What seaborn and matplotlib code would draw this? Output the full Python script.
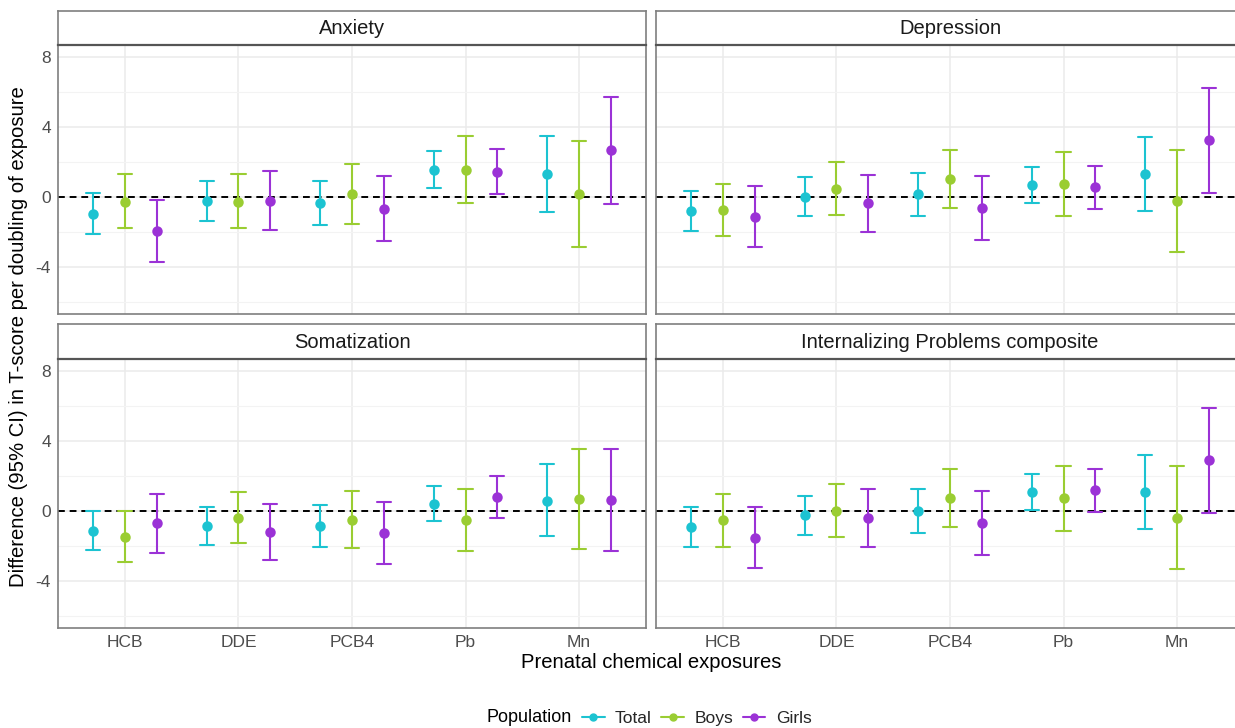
import numpy as np
import pandas as pd
import matplotlib
matplotlib.use("Agg")
import matplotlib.pyplot as plt
from matplotlib.lines import Line2D
import seaborn as sns

# ---------------- data ----------------
exposures = ["HCB", "DDE", "PCB4", "Pb", "Mn"]
populations = ["Total", "Boys", "Girls"]
outcomes = ["Anxiety", "Depression", "Somatization", "Internalizing Problems composite"]

# order: for each exposure -> Total, Boys, Girls
anx_est = [-0.95, -0.27, -1.92, -0.23, -0.27, -0.21, -0.34, 0.19, -0.69, 1.54, 1.56, 1.45, 1.31, 0.19, 2.67]
anx_lo = [-2.10, -1.80, -3.70, -1.35, -1.80, -1.90, -1.62, -1.52, -2.53, 0.50, -0.32, 0.19, -0.88, -2.86, -0.40]
anx_hi = [0.23, 1.30, -0.15, 0.91, 1.30, 1.49, 0.91, 1.90, 1.22, 2.61, 3.47, 2.72, 3.47, 3.22, 5.75]

dep_est = [-0.80, -0.74, -1.12, 0.00, 0.48, -0.36, 0.17, 1.03, -0.61, 0.67, 0.74, 0.55, 1.31, -0.25, 3.24]
dep_lo = [-1.94, -2.25, -2.86, -1.10, -1.03, -2.00, -1.09, -0.63, -2.44, -0.36, -1.10, -0.67, -0.82, -3.16, 0.25]
dep_hi = [0.34, 0.76, 0.63, 1.12, 1.98, 1.28, 1.39, 2.70, 1.22, 1.70, 2.59, 1.77, 3.45, 2.70, 6.23]

som_est = [-1.12, -1.49, -0.70, -0.86, -0.38, -1.22, -0.86, -0.50, -1.24, 0.42, -0.53, 0.80, 0.59, 0.70, 0.61]
som_lo = [-2.23, -2.93, -2.38, -1.92, -1.83, -2.82, -2.06, -2.13, -3.01, -0.59, -2.32, -0.38, -1.45, -2.17, -2.29]
som_hi = [0.00, 0.00, 0.97, 0.23, 1.09, 0.40, 0.34, 1.12, 0.53, 1.41, 1.28, 2.00, 2.67, 3.56, 3.54]

int_est = [-0.91, -0.53, -1.52, -0.23, 0.00, -0.38, 0.00, 0.74, -0.67, 1.10, 0.72, 1.18, 1.10, -0.38, 2.90]
int_lo = [-2.06, -2.06, -3.28, -1.35, -1.50, -2.04, -1.26, -0.93, -2.50, 0.06, -1.14, -0.08, -1.05, -3.33, -0.13]
int_hi = [0.25, 0.97, 0.23, 0.88, 1.52, 1.28, 1.24, 2.42, 1.16, 2.13, 2.57, 2.42, 3.22, 2.57, 5.90]

y_ticks = [-4, 0, 4, 8]
x_label = "Prenatal chemical exposures"
y_label = "Difference (95% CI) in T-score per doubling of exposure"
legend_title = "Population"

series = {
    "Anxiety": (anx_est, anx_lo, anx_hi),
    "Depression": (dep_est, dep_lo, dep_hi),
    "Somatization": (som_est, som_lo, som_hi),
    "Internalizing Problems composite": (int_est, int_lo, int_hi),
}

rows = []
for outc in outcomes:
    est, lo, hi = series[outc]
    k = 0
    for e in exposures:
        for p in populations:
            for v in (lo[k], est[k], hi[k]):
                rows.append({"outcome": outc, "exposure": e, "Population": p, "value": v})
            k += 1
df = pd.DataFrame(rows)

palette = {"Total": "#1CC3D1", "Boys": "#9ACD32", "Girls": "#9B32D6"}

sns.set_style("white")
plt.rcParams["font.family"] = ["Liberation Sans", "DejaVu Sans"]
plt.rcParams["axes.unicode_minus"] = False

W, H = 1235, 728
fig = plt.figure(figsize=(W / 100, H / 100), dpi=100)

def fx(px):
    return px / W

def fy(py):
    return 1 - py / H

panel_w = 588
lefts = [58, 656]
tops = [(11, 45, 314), (324, 359, 628)]
border_col = "#7F7F7F"

for i, outc in enumerate(outcomes):
    r, c = divmod(i, 2)
    s_top, a_top, a_bot = tops[r]
    l = lefts[c]
    ax = fig.add_axes([fx(l), fy(a_bot), panel_w / W, (a_bot - a_top) / H])
    sub = df[df["outcome"] == outc]
    sns.pointplot(data=sub, x="exposure", y="value", hue="Population",
                  order=exposures, hue_order=populations, palette=palette,
                  estimator="median", errorbar=("pi", 100), dodge=0.56,
                  linestyle="none", marker="o", markersize=5.5,
                  capsize=0.125, err_kws={"linewidth": 1.5},
                  legend=False, ax=ax, zorder=3)
    ax.axhline(0, color="black", linestyle=(0, (3.5, 2.5)), linewidth=1.4, zorder=2)
    ax.set_xlim(-0.59, 4.59)
    ax.set_ylim(-6.7, 8.7)
    ax.set_yticks(y_ticks)
    ax.set_yticks([-6, -2, 2, 6], minor=True)
    ax.grid(True, which="major", color="#EBEBEB", linewidth=1.1, zorder=0)
    ax.grid(True, which="minor", axis="y", color="#F3F3F3", linewidth=0.8, zorder=0)
    ax.set_axisbelow(True)
    for sp in ax.spines.values():
        sp.set_color(border_col)
        sp.set_linewidth(1.2)
    ax.set_xlabel("")
    ax.set_ylabel("")
    ax.tick_params(axis="both", which="major", length=3, width=0.8, color="#333333",
                   labelsize=12.5, labelcolor="#4D4D4D", pad=2)
    ax.tick_params(axis="y", which="minor", length=0)
    if c == 1:
        ax.tick_params(axis="y", labelleft=False, length=0)
    if r == 0:
        ax.tick_params(axis="x", labelbottom=False, length=0)
    # strip
    sax = fig.add_axes([fx(l), fy(a_top), panel_w / W, (a_top - s_top) / H])
    sax.set_xticks([])
    sax.set_yticks([])
    sax.set_facecolor("white")
    for sp in sax.spines.values():
        sp.set_color(border_col)
        sp.set_linewidth(1.2)
    sax.spines["bottom"].set_color("#555555")
    sax.spines["bottom"].set_linewidth(1.6)
    sax.text(0.5, 0.48, outc, ha="center", va="center", fontsize=14.5,
             color="#1A1A1A", transform=sax.transAxes)

fig.text(fx(651), fy(662), x_label, ha="center", va="center", fontsize=14.6, color="black")
fig.text(fx(19), fy(337), y_label, ha="center", va="center", rotation=90,
         fontsize=14.6, color="black")

fig.text(fx(486), fy(718), legend_title, ha="left", va="center", fontsize=13, color="black")
handles = [Line2D([0], [0], color=palette[p], marker="o", markersize=5, linewidth=1.5)
           for p in populations]
fig.legend(handles, populations, ncol=3, loc="center left",
           bbox_to_anchor=(fx(582), fy(718)), frameon=False, fontsize=12.5,
           handlelength=1.3, handletextpad=0.6, columnspacing=0.55,
           borderaxespad=0, borderpad=0)

fig.savefig("out.png", dpi=100, facecolor="white")
